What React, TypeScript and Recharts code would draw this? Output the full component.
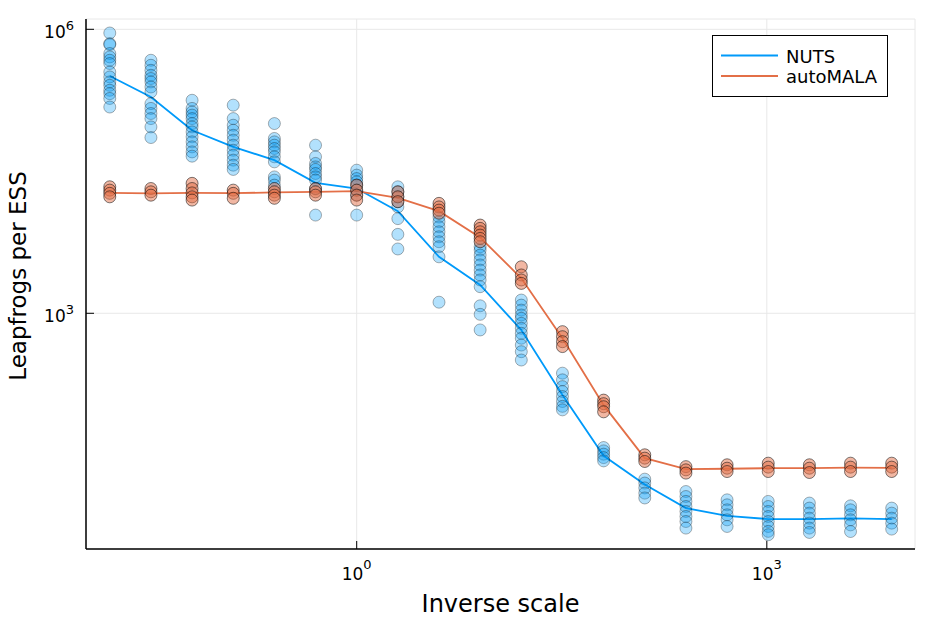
import { CartesianGrid, ComposedChart, Label, Legend, Line, Scatter, XAxis, YAxis } from "recharts";

// inverse scale values (powers of two, 2^-6 .. 2^13)
const inverseScale = [
  0.015625, 0.03125, 0.0625, 0.125, 0.25, 0.5, 1, 2, 4, 8, 16, 32, 64, 128, 256, 512, 1024, 2048, 4096, 8192,
];

// leapfrogs per ESS, one list of replicates per inverse scale
const nutsRuns = [
  [914000, 706000, 690000, 555000, 511000, 471000, 435000, 354000, 314000, 278000, 256000, 227000, 209000, 186000, 151000],
  [471000, 417000, 369000, 327000, 302000, 278000, 246000, 218000, 164000, 146000, 129000, 114000, 93100, 71900],
  [178000, 146000, 134000, 124000, 114000, 101000, 93100, 82400, 73100, 64700, 57300, 50700, 45700],
  [158000, 114000, 97000, 85900, 76000, 67500, 59700, 52800, 46800, 41500, 36700, 33100],
  [101000, 70300, 64700, 59700, 55100, 50700, 45000, 39800, 27600, 25500, 22600],
  [59700, 45000, 38300, 35200, 33100, 30000, 27600, 25500, 20500, 10900],
  [32500, 28800, 26500, 24500, 22600, 20000, 17700, 10900],
  [21700, 19200, 17000, 15100, 13300, 10000, 6820, 4780],
  [10400, 9270, 8200, 7260, 6430, 5700, 5050, 3950, 1310],
  [5050, 4660, 4120, 3660, 3240, 2860, 2540, 2250, 1910, 1200, 975, 667],
  [1380, 1220, 1080, 959, 885, 783, 695, 615, 545, 462, 393, 321],
  [233, 198, 168, 149, 132, 117, 104, 95.5],
  [38.2, 35.2, 32.5, 29.9, 27.6],
  [17.7, 16.1, 14.3, 12.6, 11.2],
  [13.1, 11.6, 10.3, 9.1, 8.07, 7.14, 6.32, 5.38],
  [10.7, 9.48, 8.39, 7.43, 6.58, 5.6],
  [10.3, 9.1, 8.07, 7.14, 6.32, 5.6, 4.97, 4.58],
  [9.89, 8.75, 7.74, 6.85, 6.07, 5.38, 4.84],
  [9.25, 8.39, 7.43, 6.58, 5.82, 4.95],
  [8.75, 7.74, 6.85, 6.07, 5.25],
];

const automalaRuns = [
  [21700, 20000, 18500, 17000],
  [20800, 19200, 17700],
  [23600, 20800, 18700, 17000, 15700],
  [20000, 18500, 16400],
  [20800, 19200, 17700, 16400],
  [20800, 19200, 17700],
  [22600, 20000, 17700, 15700],
  [19200, 17000, 15100],
  [14500, 13300, 12300, 11400],
  [8550, 7890, 7260, 6700, 6180, 5700],
  [3100, 2540, 2250, 2070],
  [640, 566, 501, 445],
  [121, 111, 103, 91],
  [32, 29.5, 27.2],
  [24, 22.2, 20.5],
  [25.1, 23.1, 21.3],
  [26.1, 23.7, 21.3],
  [25.1, 23.1, 20.8],
  [26.1, 23.7, 21.3],
  [26.1, 23.7, 21.3],
];

const nutsMedian = [
  321000, 193000, 85900, 57300, 41500, 23900, 20800, 12000, 3950, 1990, 667, 137, 31.2, 15.5, 8.75, 7.26, 6.7, 6.7, 6.81, 6.7,
];
const automalaMedian = [
  18700, 18500, 18700, 18600, 18900, 19200, 19500, 16600, 12000, 6340, 2340, 545, 107, 29.5, 22.6, 22.8, 23.1, 23.1, 23.4, 23.3,
];

const xTicks = [1, 1000];
const yTicks = [1000, 1000000];

const NUTS_COLOR = "#009AFA";
const AUTOMALA_COLOR = "#E36F47";
const FONT = "DejaVu Sans, sans-serif";

const toPoints = (runs: number[][]) => runs.flatMap((vals, i) => vals.map((y) => ({ x: inverseScale[i], y })));
const toLine = (values: number[]) => values.map((y, i) => ({ x: inverseScale[i], y }));

const exponent = (v: number) => Math.round(Math.log10(v));

function XTick({ x, y, payload }: any) {
  return (
    <g>
      <line x1={x} x2={x} y1={y} y2={y - 8} stroke="#000" strokeWidth={1} />
      <text x={x} y={y + 31} textAnchor="middle" fontFamily={FONT} fontSize={17} fill="#000">
        10
        <tspan dy={-11} fontSize={13}>
          {exponent(payload.value)}
        </tspan>
      </text>
    </g>
  );
}

function YTick({ x, y, payload }: any) {
  return (
    <g>
      <line x1={x + 12} x2={x + 20} y1={y} y2={y} stroke="#000" strokeWidth={1} />
      <text x={x} y={y + 9} textAnchor="end" fontFamily={FONT} fontSize={17} fill="#000">
        10
        <tspan dy={-8} fontSize={13}>
          {exponent(payload.value)}
        </tspan>
      </text>
    </g>
  );
}

const marker = (color: string, opacity: number) => (props: any) => (
  <circle
    cx={props.cx}
    cy={props.cy}
    r={6}
    fill={color}
    fillOpacity={opacity}
    stroke="#000"
    strokeOpacity={opacity}
    strokeWidth={1}
  />
);

function LegendBox() {
  return (
    <svg width={176} height={62} style={{ display: "block" }}>
      <rect x={0.5} y={0.5} width={175} height={61} fill="#fff" stroke="#000" strokeWidth={1} />
      <line x1={9} x2={66} y1={20.5} y2={20.5} stroke={NUTS_COLOR} strokeWidth={2} />
      <line x1={9} x2={66} y1={41} y2={41} stroke={AUTOMALA_COLOR} strokeWidth={2} />
      <text x={74} y={27.5} fontFamily={FONT} fontSize={18} fill="#000">
        NUTS
      </text>
      <text x={74} y={48} fontFamily={FONT} fontSize={18} fill="#000">
        autoMALA
      </text>
    </svg>
  );
}

export default function App() {
  return (
    <div style={{ position: "absolute", left: 0, top: 0, width: 934, height: 623, background: "#fff" }}>
      <ComposedChart width={934} height={623} margin={{ top: 19, right: 19, bottom: 24, left: 26 }}>
        <CartesianGrid stroke="#e8e8e8" strokeWidth={1} />
        <XAxis
          dataKey="x"
          type="number"
          scale="log"
          domain={[0.01047, 12130]}
          ticks={xTicks}
          allowDataOverflow
          height={50}
          tickSize={0}
          tickMargin={0}
          tickLine={false}
          axisLine={{ stroke: "#000", strokeWidth: 1.5 }}
          tick={(props: any) => <XTick {...props} />}
        >
          <Label
            content={() => (
              <text x={500.5} y={611.5} textAnchor="middle" fontFamily={FONT} fontSize={24} fill="#000">
                Inverse scale
              </text>
            )}
          />
        </XAxis>
        <YAxis
          dataKey="y"
          type="number"
          scale="log"
          domain={[3.236, 1285000]}
          ticks={yTicks}
          allowDataOverflow
          width={60}
          tickSize={0}
          tickMargin={12}
          tickLine={false}
          axisLine={{ stroke: "#000", strokeWidth: 1.5 }}
          tick={(props: any) => <YTick {...props} />}
        >
          <Label
            content={() => (
              <text
                x={26}
                y={276}
                transform="rotate(-90 26 276)"
                textAnchor="middle"
                fontFamily={FONT}
                fontSize={23}
                fill="#000"
              >
                Leapfrogs per ESS
              </text>
            )}
          />
        </YAxis>
        <Scatter data={toPoints(nutsRuns)} shape={marker(NUTS_COLOR, 0.3)} isAnimationActive={false} />
        <Scatter data={toPoints(automalaRuns)} shape={marker(AUTOMALA_COLOR, 0.5)} isAnimationActive={false} />
        <Line
          data={toLine(nutsMedian)}
          dataKey="y"
          type="linear"
          stroke={NUTS_COLOR}
          strokeWidth={1.8}
          dot={false}
          activeDot={false}
          isAnimationActive={false}
        />
        <Line
          data={toLine(automalaMedian)}
          dataKey="y"
          type="linear"
          stroke={AUTOMALA_COLOR}
          strokeWidth={1.8}
          dot={false}
          activeDot={false}
          isAnimationActive={false}
        />
        <Legend
          layout="vertical"
          align="center"
          verticalAlign="middle"
          wrapperStyle={{ left: 712, top: 35, width: 176, height: 62 }}
          content={() => <LegendBox />}
        />
      </ComposedChart>
    </div>
  );
}
